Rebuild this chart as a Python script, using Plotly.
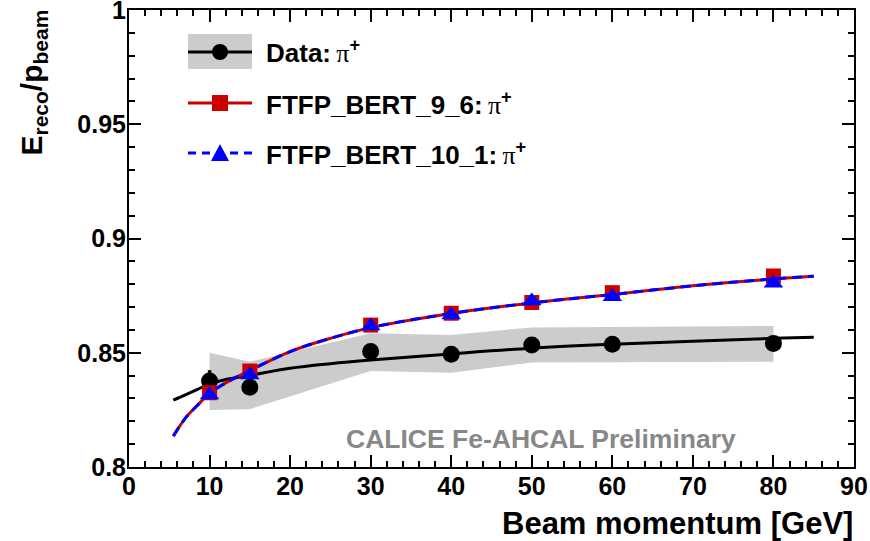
import plotly.graph_objects as go

# ---------------- data ----------------
momentum = [10, 15, 30, 40, 50, 60, 80]
data_resp = [0.8376, 0.8349, 0.8505, 0.8493, 0.8534, 0.8537, 0.8541]
data_err = [0.0048, 0.0015, 0.0015, 0.0015, 0.0015, 0.0015, 0.0015]
band_upper = [0.8500, 0.8461, 0.8585, 0.8578, 0.8611, 0.8614, 0.8617]
band_lower = [0.8249, 0.8253, 0.8420, 0.8413, 0.8457, 0.8458, 0.8461]
ftfp96_resp = [0.8325, 0.8420, 0.8621, 0.8673, 0.8720, 0.8763, 0.8836]
ftfp101_resp = [0.8315, 0.8403, 0.8617, 0.8665, 0.8726, 0.8745, 0.8804]

fit_x = [5.5, 7, 8.5, 10, 12, 15, 20, 25, 30, 40, 50, 60, 70, 80, 85]
fit_data = [0.8293, 0.8316, 0.8340, 0.8363, 0.8383, 0.8401, 0.8432, 0.8452,
            0.8468, 0.8495, 0.8520, 0.8537, 0.8550, 0.8563, 0.8568]
fit_ftfp96 = [0.8135, 0.8214, 0.8270, 0.8322, 0.8368, 0.8422, 0.8505, 0.8563,
              0.8610, 0.8672, 0.8718, 0.8755, 0.8793, 0.8823, 0.8835]
fit_ftfp101 = [0.8135, 0.8214, 0.8270, 0.8322, 0.8368, 0.8422, 0.8505, 0.8563,
               0.8610, 0.8672, 0.8718, 0.8755, 0.8793, 0.8823, 0.8835]

x_ticks = [0, 10, 20, 30, 40, 50, 60, 70, 80, 90]
y_ticks = [0.8, 0.85, 0.9, 0.95, 1.0]
y_tick_text = ["0.8", "0.85", "0.9", "0.95", "1"]

PI = "<span style='font-family:Liberation Serif;font-weight:normal'>π</span><sup><b>+</b></sup>"
legend_labels = ["<b>Data:</b>\u2009" + PI,
                 "<b>FTFP_BERT_9_6:</b>\u2009" + PI,
                 "<b>FTFP_BERT_10_1:</b>\u2009" + PI]

RED = "#cc0000"
BLUE = "#0000ff"
GREY = "#cccccc"
FONT = "Liberation Sans"

W, H = 870, 541
ML, MR, MT, MB = 129, 16, 10, 74
PW, PH = W - ML - MR, H - MT - MB


def px(xp):
    return (xp - ML) / PW


def py(yp):
    return (H - MB - yp) / PH


fig = go.Figure()

# systematic band
fig.add_trace(go.Scatter(
    x=momentum + momentum[::-1], y=band_upper + band_lower[::-1],
    fill="toself", fillcolor=GREY, line=dict(width=0), mode="lines",
    hoverinfo="skip", showlegend=False))

# data fit
fig.add_trace(go.Scatter(x=fit_x, y=fit_data, mode="lines", line_shape="spline",
                         line=dict(color="black", width=3), showlegend=False))
# data points
fig.add_trace(go.Scatter(
    x=momentum, y=data_resp, mode="markers",
    marker=dict(symbol="circle", size=17, color="black"),
    error_y=dict(type="data", array=data_err, color="black", thickness=3.5, width=0),
    showlegend=False))

# FTFP_BERT_9_6
fig.add_trace(go.Scatter(x=fit_x, y=fit_ftfp96, mode="lines", line_shape="spline",
                         line=dict(color=RED, width=3), showlegend=False))
fig.add_trace(go.Scatter(x=momentum, y=ftfp96_resp, mode="markers",
                         marker=dict(symbol="square", size=15, color=RED),
                         showlegend=False))

# FTFP_BERT_10_1
fig.add_trace(go.Scatter(x=fit_x, y=fit_ftfp101, mode="lines", line_shape="spline",
                         line=dict(color=BLUE, width=3, dash="10px,6px"), showlegend=False))
fig.add_trace(go.Scatter(x=momentum, y=ftfp101_resp, mode="markers",
                         marker=dict(symbol="triangle-up", size=17, color=BLUE),
                         showlegend=False))

# ---------------- manual legend ----------------
shapes = []
annotations = []
rows_y = [52, 103, 153]
sx0, sx1, sxc = 188, 252, 220
# grey box behind data entry
shapes.append(dict(type="rect", xref="paper", yref="paper",
                   x0=px(188), x1=px(252), y0=py(69), y1=py(34),
                   fillcolor=GREY, line=dict(width=0), layer="above"))
# data line + circle
shapes.append(dict(type="line", xref="paper", yref="paper",
                   x0=px(sx0), x1=px(sx1), y0=py(rows_y[0]), y1=py(rows_y[0]),
                   line=dict(color="black", width=3), layer="above"))
r = 8
shapes.append(dict(type="circle", xref="paper", yref="paper",
                   x0=px(sxc - r), x1=px(sxc + r), y0=py(rows_y[0] + r), y1=py(rows_y[0] - r),
                   fillcolor="black", line=dict(width=0), layer="above"))
# red line + square
shapes.append(dict(type="line", xref="paper", yref="paper",
                   x0=px(sx0), x1=px(sx1), y0=py(rows_y[1]), y1=py(rows_y[1]),
                   line=dict(color=RED, width=3), layer="above"))
s = 8
shapes.append(dict(type="rect", xref="paper", yref="paper",
                   x0=px(sxc - s), x1=px(sxc + s), y0=py(rows_y[1] + s), y1=py(rows_y[1] - s),
                   fillcolor=RED, line=dict(width=0), layer="above"))
# blue dashed line + triangle
shapes.append(dict(type="line", xref="paper", yref="paper",
                   x0=px(sx0), x1=px(sx1), y0=py(rows_y[2]), y1=py(rows_y[2]),
                   line=dict(color=BLUE, width=3, dash="8px,6px"), layer="above"))
tri = "M {} {} L {} {} L {} {} Z".format(
    px(sxc - 9), py(rows_y[2] + 8), px(sxc + 9), py(rows_y[2] + 8), px(sxc), py(rows_y[2] - 9))
shapes.append(dict(type="path", xref="paper", yref="paper", path=tri,
                   fillcolor=BLUE, line=dict(width=0), layer="above"))

for lab, yy in zip(legend_labels, rows_y):
    annotations.append(dict(text=lab, xref="paper", yref="paper", x=px(264), y=py(yy),
                            xanchor="left", yanchor="middle", showarrow=False,
                            font=dict(family=FONT, size=26, color="black")))

# CALICE label
annotations.append(dict(text="<b>CALICE Fe-AHCAL Preliminary</b>", xref="paper", yref="paper",
                        x=px(541), y=py(439), xanchor="center", yanchor="middle",
                        showarrow=False, font=dict(family=FONT, size=26.5, color="#888888")))

# axis titles
annotations.append(dict(text="<b>Beam momentum [GeV]</b>", xref="paper", yref="paper",
                        x=px(855), y=py(523), xanchor="right", yanchor="middle",
                        showarrow=False, font=dict(family=FONT, size=31, color="black")))
annotations.append(dict(text="<b>E<sub>reco</sub>/p<sub>beam</sub></b>", xref="paper", yref="paper",
                        x=px(12), y=py(8), xanchor="left", yanchor="top", textangle=-90,
                        showarrow=False, font=dict(family=FONT, size=30, color="black")))

axis_common = dict(showgrid=False, zeroline=False, showline=True, linecolor="black",
                   linewidth=2, mirror="ticks", ticks="inside", tickcolor="black",
                   tickwidth=2, ticklen=12, automargin=False, ticklabeloverflow="allow",
                   tickfont=dict(family=FONT, size=25, color="black", weight="bold"))

fig.update_xaxes(range=[0, 90], tickvals=x_ticks, ticklabelstandoff=-4,
                 minor=dict(dtick=2, ticks="inside", ticklen=6, tickwidth=1.5, tickcolor="black"),
                 **axis_common)
fig.update_yaxes(range=[0.8, 1.0], tickvals=y_ticks, ticktext=y_tick_text, ticklabelstandoff=-4,
                 minor=dict(dtick=0.01, ticks="inside", ticklen=6, tickwidth=1.5, tickcolor="black"),
                 **axis_common)

fig.update_layout(width=W, height=H, margin=dict(l=ML, r=MR, t=MT, b=MB),
                  plot_bgcolor="white", paper_bgcolor="white",
                  shapes=shapes, annotations=annotations, showlegend=False)

fig.write_html("out.html")
